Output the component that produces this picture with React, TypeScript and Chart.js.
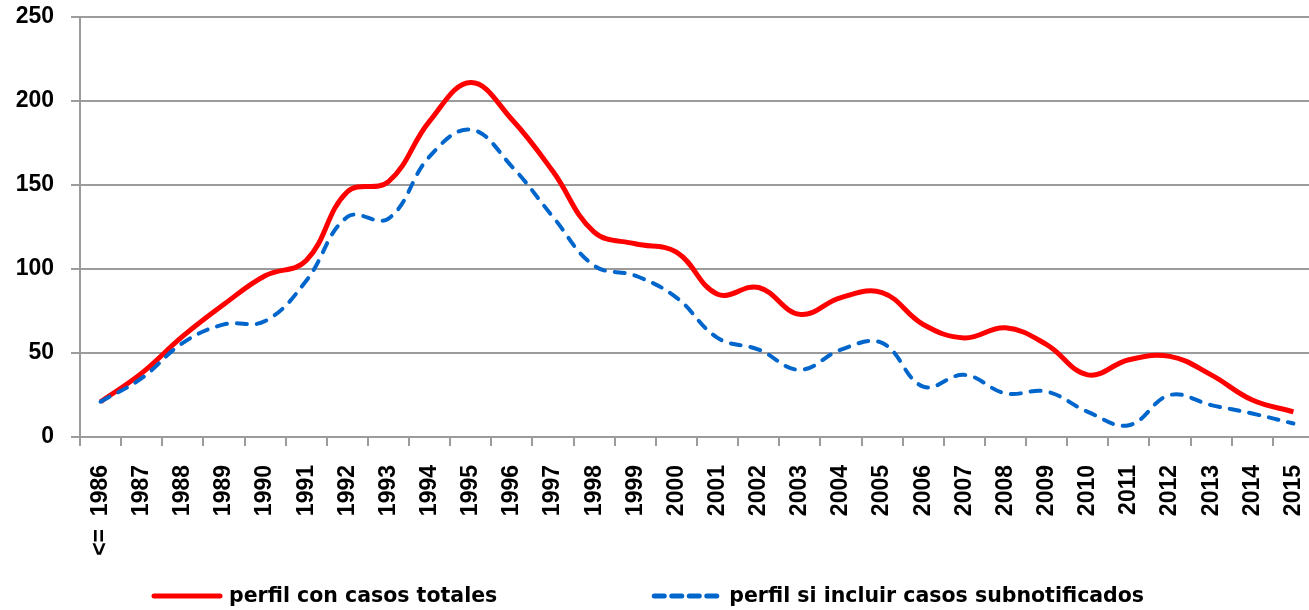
import React, { useEffect, useRef } from "react";
import { Chart, registerables } from "chart.js";

Chart.register(...registerables);

const years: string[] = [
  "<=  1986", "1987", "1988", "1989", "1990", "1991", "1992", "1993", "1994", "1995",
  "1996", "1997", "1998", "1999", "2000", "2001", "2002", "2003", "2004", "2005",
  "2006", "2007", "2008", "2009", "2010", "2011", "2012", "2013", "2014", "2015",
];

const totalCases: number[] = [
  21, 38, 60, 79, 96, 105, 146, 152, 188, 211,
  189, 158, 122, 115, 110, 85, 89, 73, 83, 86,
  67, 59, 65, 55, 37, 46, 48, 37, 22, 15,
];

const withoutUnderreported: number[] = [
  21, 35, 56, 67, 69, 93, 131, 130, 167, 183,
  161, 131, 102, 96, 83, 59, 52, 40, 52, 56,
  30, 37, 26, 27, 15, 7, 25, 19, 14, 8,
];

const seriesLabels: string[] = [
  "perfil con casos totales",
  "perfil si incluir casos subnotificados",
];

const yTicks: number[] = [0, 50, 100, 150, 200, 250];

const RED = "#FF0000";
const BLUE = "#0066CC";
const GRID = "#9B9B9B";

const legendPlugin = {
  id: "customLegend",
  afterDraw(chart: any) {
    const { ctx, chartArea } = chart;
    const y = chartArea.bottom + 159;
    let x = chartArea.left + 72;
    ctx.save();
    ctx.font = "bold 20.5px 'DejaVu Sans'";
    ctx.textBaseline = "middle";
    ctx.textAlign = "left";
    ctx.fillStyle = "#000";
    ctx.beginPath();
    ctx.strokeStyle = RED;
    ctx.lineWidth = 5;
    ctx.lineCap = "round";
    ctx.moveTo(x + 2, y);
    ctx.lineTo(x + 68, y);
    ctx.stroke();
    x += 77;
    ctx.fillText(seriesLabels[0], x, y + 1);
    x += ctx.measureText(seriesLabels[0]).width + 155;
    ctx.beginPath();
    ctx.strokeStyle = BLUE;
    ctx.lineWidth = 5;
    ctx.lineCap = "round";
    ctx.setLineDash([10, 7.5]);
    ctx.moveTo(x + 2, y);
    ctx.lineTo(x + 66, y);
    ctx.stroke();
    ctx.setLineDash([]);
    x += 77;
    ctx.fillText(seriesLabels[1], x, y + 1);
    ctx.restore();
  },
};

export default function App() {
  const canvasRef = useRef<HTMLCanvasElement | null>(null);

  useEffect(() => {
    if (!canvasRef.current) return;
    const chart = new Chart(canvasRef.current, {
      type: "line",
      data: {
        labels: years,
        datasets: [
          {
            label: seriesLabels[0],
            data: totalCases,
            borderColor: RED,
            backgroundColor: RED,
            borderWidth: 5,
            tension: 0.4,
            pointRadius: 0,
            fill: false,
            order: 2,
          },
          {
            label: seriesLabels[1],
            data: withoutUnderreported,
            borderColor: BLUE,
            backgroundColor: BLUE,
            borderWidth: 4,
            borderDash: [10, 10],
            borderCapStyle: "round",
            tension: 0.4,
            pointRadius: 0,
            fill: false,
            order: 1,
          },
        ],
      },
      options: {
        animation: false,
        responsive: true,
        maintainAspectRatio: false,
        layout: { padding: { top: 17, right: 4, left: 0, bottom: 0 } },
        plugins: {
          legend: { display: false },
          tooltip: { enabled: false },
        },
        scales: {
          x: {
            type: "category",
            offset: true,
            grid: {
              offset: true,
              drawOnChartArea: false,
              drawTicks: true,
              tickLength: 9,
              color: GRID,
              lineWidth: 2,
            },
            border: { display: true, color: GRID, width: 2 },
            ticks: {
              autoSkip: false,
              minRotation: 90,
              maxRotation: 90,
              padding: 19,
              color: "#000",
              font: { family: "'Liberation Sans'", weight: "bold", size: 23 },
            },
            afterFit(scale: any) {
              scale.height = 173;
              scale.paddingLeft = 0;
              scale.paddingRight = 0;
              scale.paddingTop = 0;
              scale.paddingBottom = 0;
            },
          },
          y: {
            min: 0,
            max: 250,
            afterBuildTicks(scale: any) {
              scale.ticks = yTicks.map((v) => ({ value: v }));
            },
            grid: {
              color: GRID,
              lineWidth: 2,
              drawTicks: true,
              tickLength: 9,
            },
            border: { display: true, color: GRID, width: 2 },
            ticks: {
              padding: 17,
              color: "#000",
              font: { family: "'Liberation Sans'", weight: "bold", size: 23 },
            },
            afterFit(scale: any) {
              scale.width = 80;
              scale.paddingLeft = 0;
              scale.paddingRight = 0;
              scale.paddingTop = 0;
              scale.paddingBottom = 0;
            },
          },
        },
      },
      plugins: [legendPlugin],
    });
    return () => chart.destroy();
  }, []);

  return (
    <div
      style={{
        position: "fixed",
        left: 0,
        top: 0,
        width: 1309,
        height: 610,
        overflow: "hidden",
        background: "#fff",
      }}
    >
      <div style={{ position: "relative", width: 1318, height: 610 }}>
        <canvas ref={canvasRef} />
      </div>
    </div>
  );
}
